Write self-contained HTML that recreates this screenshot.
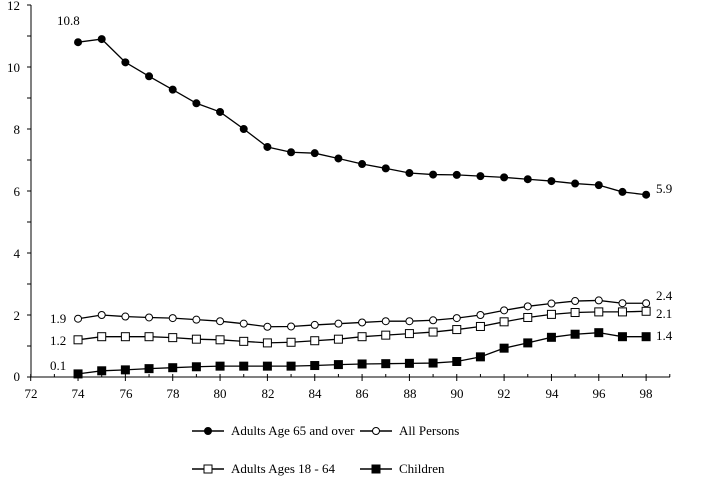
<!DOCTYPE html>
<html><head><meta charset="utf-8"><style>
body{margin:0;background:#fff;}
svg{display:block;}
svg text{font-family:"Liberation Serif","DejaVu Serif",serif;}
</style></head><body>
<svg id="s" width="712" height="485" viewBox="0 0 712 485">
<g stroke="#000" stroke-width="1" fill="none">
<line x1="31" y1="5" x2="31" y2="377"/>
<line x1="31" y1="377" x2="670" y2="377"/>
</g>
<g font-size="13" fill="#000" font-family="Liberation Serif, serif">
<text x="20" y="381" text-anchor="end">0</text>
<text x="20" y="320" text-anchor="end">2</text>
<text x="20" y="258" text-anchor="end">4</text>
<text x="20" y="196" text-anchor="end">6</text>
<text x="20" y="134" text-anchor="end">8</text>
<text x="20" y="72" text-anchor="end">10</text>
<text x="20" y="10" text-anchor="end">12</text>
<text x="31" y="398" text-anchor="middle">72</text>
<text x="78" y="398" text-anchor="middle">74</text>
<text x="126" y="398" text-anchor="middle">76</text>
<text x="173" y="398" text-anchor="middle">78</text>
<text x="220" y="398" text-anchor="middle">80</text>
<text x="268" y="398" text-anchor="middle">82</text>
<text x="315" y="398" text-anchor="middle">84</text>
<text x="362" y="398" text-anchor="middle">86</text>
<text x="410" y="398" text-anchor="middle">88</text>
<text x="457" y="398" text-anchor="middle">90</text>
<text x="504" y="398" text-anchor="middle">92</text>
<text x="552" y="398" text-anchor="middle">94</text>
<text x="599" y="398" text-anchor="middle">96</text>
<text x="646" y="398" text-anchor="middle">98</text>
<text x="57" y="25">10.8</text>
<text x="656" y="193">5.9</text>
<text x="656" y="300">2.4</text>
<text x="656" y="318">2.1</text>
<text x="656" y="340">1.4</text>
<text x="50" y="323">1.9</text>
<text x="50" y="345">1.2</text>
<text x="50" y="370">0.1</text>
<text x="231" y="435">Adults Age 65 and over</text>
<text x="399" y="435">All Persons</text>
<text x="231" y="473">Adults Ages 18 - 64</text>
<text x="399" y="473">Children</text>
</g>
<g id="g"></g>
</svg>
<script>
var g=document.getElementById('g'),ns='http://www.w3.org/2000/svg';
function el(t,a){var e=document.createElementNS(ns,t);for(var k in a)e.setAttribute(k,a[k]);g.appendChild(e);return e;}
function X(yr){return 30.7+(yr-72)*23.67;}
function Y(v){return 377-v*31;}
for(var yr=72;yr<=99;yr++){el('line',{x1:X(yr),y1:374,x2:X(yr),y2:yr%2==0?381:377,stroke:'#000'});}
for(var v=0;v<=12;v++){el('line',{x1:27,y1:Y(v),x2:31,y2:Y(v),stroke:'#000'});}
var S=[
{d:[10.8,10.9,10.15,9.7,9.27,8.83,8.55,8.0,7.42,7.25,7.22,7.05,6.87,6.73,6.58,6.53,6.52,6.48,6.44,6.38,6.32,6.24,6.19,5.97,5.88],m:'c',f:'#000'},
{d:[1.88,2.0,1.95,1.92,1.9,1.85,1.8,1.72,1.62,1.63,1.68,1.72,1.76,1.8,1.8,1.83,1.9,2.0,2.15,2.28,2.37,2.45,2.47,2.38,2.38],m:'c',f:'#fff'},
{d:[1.2,1.3,1.3,1.3,1.27,1.22,1.2,1.15,1.1,1.12,1.17,1.22,1.3,1.35,1.4,1.45,1.53,1.63,1.78,1.92,2.02,2.08,2.1,2.1,2.12],m:'s',f:'#fff'},
{d:[0.1,0.2,0.23,0.27,0.3,0.33,0.35,0.35,0.35,0.35,0.37,0.4,0.42,0.43,0.44,0.45,0.5,0.65,0.93,1.1,1.28,1.38,1.43,1.3,1.3],m:'s',f:'#000'}];
function mk(m,f,x,y){if(m=='c')el('circle',{cx:x,cy:y,r:3.5,fill:f,stroke:'#000'});else el('rect',{x:x-4,y:y-4,width:8,height:8,fill:f,stroke:'#000'});}
S.forEach(function(s){var p=s.d.map(function(v,i){return X(74+i)+','+Y(v)}).join(' ');
el('polyline',{points:p,fill:'none',stroke:'#000','stroke-width':1.3});
s.d.forEach(function(v,i){mk(s.m,s.f,X(74+i),Y(v));});});
var L=[[192,431,S[0]],[360,431,S[1]],[192,469,S[2]],[360,469,S[3]]];
L.forEach(function(l){el('line',{x1:l[0],y1:l[1],x2:l[0]+32,y2:l[1],stroke:'#000','stroke-width':1.5});mk(l[2].m,l[2].f,l[0]+16,l[1]);});
</script>
</body></html>
